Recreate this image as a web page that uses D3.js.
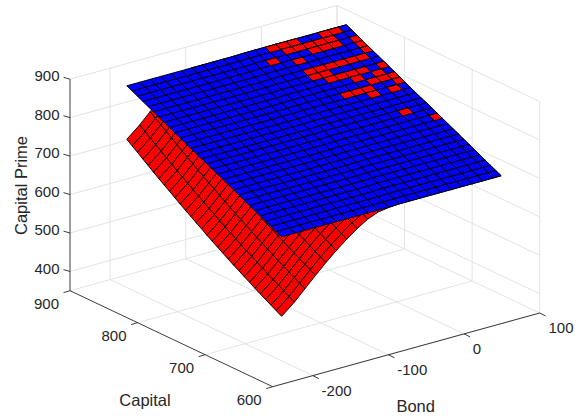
<!DOCTYPE html>
<html>
<head>
<meta charset="utf-8">
<script src="https://cdn.jsdelivr.net/npm/d3@7"></script>
<style>
html,body{margin:0;padding:0;background:#fff}
svg{display:block}
text{font-family:"Liberation Sans",Arial,Helvetica,sans-serif;fill:#262626}
</style>
</head>
<body>
<svg id="chart" width="583" height="419"></svg>
<script>
// Axis titles and ticks
const xLabel = "Bond";
const yLabel = "Capital";
const zLabel = "Capital Prime";
const bondTicks = [-200, -100, 0, 100];
const capitalTicks = [600, 700, 800, 900];
const zTicks = [400, 500, 600, 700, 800, 900];
const bondDomain = [-253, 100];
const capitalDomain = [600, 900];
const zDomain = [350, 900];

// Grid of the two surfaces
const bondGrid = [-214.4,-197.4,-183.6,-169.7,-155.9,-142.1,-128.3,-114.5,-100.6,-86.8,-73,-59.2,-45.4,-31.5,-17.7,-3.9,9.9,23.7,37.6,51.4,65.2,75.8];
const capitalGrid = [630,637.9,645.8,653.7,661.6,669.5,677.4,685.3,693.2,701.1,709,716.9,724.8,732.7,740.6,748.5,756.4,764.3,772.2,780.1,788,795.9,803.8,811.7,819.6,827.5,835.4,843.3,851.2,859.1];

// Red surface: one row per capitalGrid value, one column per bondGrid value
const redSurface = [
[487,515,542,569,595,619,641,661,678,689,693,695,695,695,695,695,695,695,695,695,695,695],
[495,523,550,577,603,627,649,669,686,697,701,702,702,702,702,702,702,702,702,702,702,702],
[503,531,558,585,611,635,657,677,694,705,708,709,709,709,709,709,709,709,709,709,709,709],
[511,539,566,593,619,643,665,685,702,713,715,716,716,716,716,716,716,716,716,716,716,716],
[519,547,574,601,627,651,673,693,710,721,722,723,723,723,723,723,723,723,723,723,723,723],
[527,555,582,609,635,659,681,701,718,729,729,730,730,730,730,730,730,730,730,730,730,730],
[536,564,591,618,644,668,690,710,727,736,736,737,737,737,737,737,737,737,737,737,737,737],
[544,572,599,626,652,676,698,718,735,743,743,744,744,744,744,744,744,744,744,744,744,744],
[553,581,608,635,661,685,707,727,744,750,750,751,751,751,751,751,751,751,751,751,751,751],
[561,589,616,643,669,693,715,735,752,757,757,758,758,758,758,758,758,758,758,758,758,758],
[570,598,625,652,678,702,724,744,761,764,764,765,765,765,765,765,765,765,765,765,765,765],
[579,607,634,661,687,711,733,753,770,771,771,772,772,772,772,772,772,772,772,772,772,772],
[588,616,643,670,696,720,742,762,778,778,778,779,779,779,779,779,779,779,779,779,779,779],
[597,625,652,679,705,729,751,771,785,785,785,786,786,786,786,786,786,786,786,786,786,786],
[606,634,661,688,714,738,760,780,792,792,792,793,793,793,793,793,793,793,793,793,793,793],
[616,644,671,698,724,748,770,790,798,798,798,799,799,799,799,799,799,799,799,799,799,799],
[625,653,680,707,733,757,779,799,805,805,805,806,806,806,806,806,806,806,806,806,806,806],
[635,663,690,717,743,767,789,809,812,812,812,813,813,813,813,813,813,813,813,813,813,813],
[644,672,699,726,752,776,798,818,819,819,819,820,820,820,820,820,820,820,820,820,820,820],
[654,682,709,736,762,786,808,826,826,826,826,827,827,827,827,827,827,827,827,827,827,827],
[664,692,719,746,772,796,818,833,833,833,833,834,834,834,834,834,834,834,834,834,834,834],
[674,702,729,756,782,806,828,840,840,840,840,841,841,841,841,841,841,841,841,841,841,841],
[684,712,739,766,792,816,838,847,847,847,847,848,848,848,848,848,848,848,848,848,848,848],
[694,722,749,776,802,826,848,854,854,854,854,855,855,855,855,855,855,855,855,855,855,855],
[704,732,759,786,812,836,858,861,861,861,861,862,862,862,862,862,862,862,862,862,862,862],
[715,743,770,797,823,847,868,868,868,868,868,869,869,869,869,869,869,869,869,869,869,869],
[725,753,780,807,833,857,875,875,875,875,875,876,876,876,876,876,876,876,876,876,876,876],
[736,764,791,818,844,868,882,882,882,882,882,883,883,883,883,883,883,883,883,883,883,883],
[746,774,801,828,854,878,889,889,889,889,889,890,890,890,890,890,890,890,890,890,890,890],
[757,785,812,839,865,889,896,896,896,896,896,897,897,897,897,897,897,897,897,897,897,897]
];

// Blue surface: same grid
const blueSurface = [
[694,694,694,694,694,694,694,694,694,694,694,695,695,695,695,695,695,695,695,695,695,695],
[701,701,701,701,701,701,701,701,701,701,701,702,702,702,702,702,702,702,702,702,702,702],
[708,708,708,708,708,708,708,708,708,708,708,709,709,709,709,709,709,709,709,709,709,709],
[715,715,715,715,715,715,715,715,715,715,715,716,716,716,716,716,716,716,716,716,716,716],
[722,722,722,722,722,722,722,722,722,722,722,723,723,723,723,723,723,723,723,723,723,723],
[729,729,729,729,729,729,729,729,729,729,729,730,730,730,730,730,730,730,730,730,730,730],
[736,736,736,736,736,736,736,736,736,736,736,737,737,737,737,737,737,737,737,737,737,737],
[743,743,743,743,743,743,743,743,743,743,743,744,744,744,744,744,744,744,744,744,744,744],
[750,750,750,750,750,750,750,750,750,750,750,751,751,751,751,751,751,751,751,751,751,751],
[757,757,757,757,757,757,757,757,757,757,757,758,758,758,758,758,758,758,758,758,758,758],
[764,764,764,764,764,764,764,764,764,764,764,765,765,765,765,765,765,765,765,765,765,765],
[771,771,771,771,771,771,771,771,771,771,771,772,772,772,772,772,772,772,772,772,772,772],
[778,778,778,778,778,778,778,778,778,778,778,779,779,779,779,779,779,779,779,779,779,779],
[785,785,785,785,785,785,785,785,785,785,785,786,786,786,786,786,786,786,786,786,786,786],
[792,792,792,792,792,792,792,792,792,792,792,793,793,793,793,793,793,793,793,793,793,793],
[798,798,798,798,798,798,798,798,798,798,798,799,799,799,799,799,799,799,799,799,799,799],
[805,805,805,805,805,805,805,805,805,805,805,806,806,806,806,806,806,806,806,806,806,806],
[812,812,812,812,812,812,812,812,812,812,812,813,813,813,813,813,813,813,813,813,813,813],
[819,819,819,819,819,819,819,819,819,819,819,820,820,820,820,820,820,820,820,820,820,820],
[826,826,826,826,826,826,826,826,826,826,826,827,827,827,827,827,827,827,827,827,827,827],
[833,833,833,833,833,833,833,833,833,833,833,834,834,834,834,834,834,834,834,834,834,834],
[840,840,840,840,840,840,840,840,840,840,840,841,841,841,841,841,841,841,841,841,841,841],
[847,847,847,847,847,847,847,847,847,847,847,848,848,848,848,848,848,848,848,848,848,848],
[854,854,854,854,854,854,854,854,854,854,854,855,855,855,855,855,855,855,855,855,855,855],
[861,861,861,861,861,861,861,861,861,861,861,862,862,862,862,862,862,862,862,862,862,862],
[868,868,868,868,868,868,868,868,868,868,868,869,869,869,869,869,869,869,869,869,869,869],
[875,875,875,875,875,875,875,875,875,875,875,876,876,876,876,876,876,876,876,876,876,876],
[882,882,882,882,882,882,882,882,882,882,882,883,883,883,883,883,883,883,883,883,883,883],
[889,889,889,889,889,889,889,889,889,889,889,890,890,890,890,890,890,890,890,890,890,890],
[896,896,896,896,896,896,896,896,896,896,896,897,897,897,897,897,897,897,897,897,897,897]
];

// Cells where the red sheet pokes through the blue one:
// key = capital cell counted from the top of capitalGrid, value = bond cell indices
const redThroughBlue = {
  0:[13,14,15,18,19], 1:[14,15,16,17,18], 2:[12,16,17,18,20], 3:[14,20], 4:[20],
  5:[14,15,16,17,18,19], 6:[14,15], 7:[15,16,17,18,20], 8:[17,19], 9:[18,19,20],
  10:[15,16,17,20], 11:[17,19], 15:[18], 17:[20]
};

const redColor = "#ff0000", blueColor = "#0000ff", gridColor = "#e3e3e3", axisColor = "#262626";

// Orthographic view: each axis maps to a fraction, fractions combine into screen vectors
const u = d3.scaleLinear().domain(bondDomain).range([0, 1]);
const v = d3.scaleLinear().domain(capitalDomain).range([0, 1]);
const w = d3.scaleLinear().domain(zDomain).range([0, 1]);
const origin = [272.7, 386.7], bondVec = [267, -73.7], capVec = [-202.7, -96], zVec = [0, -211.5];
const project = (b, c, z) => [
  origin[0] + u(b) * bondVec[0] + v(c) * capVec[0] + w(z) * zVec[0],
  origin[1] + u(b) * bondVec[1] + v(c) * capVec[1] + w(z) * zVec[1]
];

const svg = d3.select("#chart");
const line = d3.line();
const [bMin, bMax] = bondDomain, [cMin, cMax] = capitalDomain, [zMin, zMax] = zDomain;

// Walls and floor grid
const gridSegs = [];
bondTicks.forEach(b => {
  gridSegs.push([project(b, cMin, zMin), project(b, cMax, zMin)]);
  gridSegs.push([project(b, cMax, zMin), project(b, cMax, zMax)]);
});
capitalTicks.forEach(c => {
  gridSegs.push([project(bMin, c, zMin), project(bMax, c, zMin)]);
  gridSegs.push([project(bMax, c, zMin), project(bMax, c, zMax)]);
});
zTicks.forEach(z => {
  gridSegs.push([project(bMin, cMax, z), project(bMax, cMax, z)]);
  gridSegs.push([project(bMax, cMax, z), project(bMax, cMin, z)]);
});
svg.append("g").selectAll("path").data(gridSegs).join("path")
  .attr("d", line).attr("fill", "none").attr("stroke", gridColor).attr("stroke-width", 1);

// Axis lines
const axisSegs = [
  [project(bMin, cMax, zMin), project(bMin, cMax, zMax)],
  [project(bMin, cMax, zMin), project(bMin, cMin, zMin)],
  [project(bMin, cMin, zMin), project(bMax, cMin, zMin)]
];
const tickSegs = [];
zTicks.forEach(z => { const p = project(bMin, cMax, z); tickSegs.push([p, [p[0] - 6.5, p[1] - 1.9]]); });
capitalTicks.forEach(c => { const p = project(bMin, c, zMin); tickSegs.push([p, [p[0] - 6.5, p[1] + 1.9]]); });
bondTicks.forEach(b => { const p = project(b, cMin, zMin); tickSegs.push([p, [p[0] + 6, p[1] + 3]]); });
svg.append("g").selectAll("path").data(axisSegs.concat(tickSegs)).join("path")
  .attr("d", line).attr("fill", "none").attr("stroke", axisColor).attr("stroke-width", 0.9);

// Surface cells, far to near
function cells(zs) {
  const out = [];
  for (let i = capitalGrid.length - 2; i >= 0; i--) {
    for (let j = bondGrid.length - 2; j >= 0; j--) {
      out.push({ i, j, pts: [
        project(bondGrid[j], capitalGrid[i], zs[i][j]),
        project(bondGrid[j + 1], capitalGrid[i], zs[i][j + 1]),
        project(bondGrid[j + 1], capitalGrid[i + 1], zs[i + 1][j + 1]),
        project(bondGrid[j], capitalGrid[i + 1], zs[i + 1][j])
      ] });
    }
  }
  return out;
}
function drawCells(list, color) {
  svg.append("g").selectAll("path").data(list).join("path")
    .attr("d", d => line(d.pts) + "Z")
    .attr("fill", color).attr("stroke", "#000").attr("stroke-width", 0.95)
    .attr("stroke-linejoin", "round");
}
const redCells = cells(redSurface);
drawCells(redCells, redColor);
drawCells(cells(blueSurface), blueColor);
const topRow = capitalGrid.length - 2;
drawCells(redCells.filter(d => (redThroughBlue[topRow - d.i] || []).includes(d.j)), redColor);

// Tick labels
const tickFont = 15, labelFont = 16.5;
function label(x, y, str, anchor, size) {
  return svg.append("text").attr("x", x).attr("y", y).attr("dy", "0.35em")
    .attr("text-anchor", anchor).attr("font-size", size).text(str);
}
zTicks.forEach(z => { const p = project(bMin, cMax, z); label(p[0] - 10.5, p[1] - 3, z, "end", tickFont); });
capitalTicks.forEach(c => { const p = project(bMin, c, zMin); label(p[0] - 11, p[1] + 13, c, "end", tickFont); });
bondTicks.forEach(b => { const p = project(b, cMin, zMin); label(p[0] + 8.8, p[1] + 15, b, "start", tickFont); });

// Axis titles
label(415.7, 406.7, xLabel, "middle", labelFont);
label(145, 400, yLabel, "middle", labelFont);
label(0, 0, zLabel, "middle", labelFont).attr("transform", "translate(21,185.5) rotate(-90)");
</script>
</body>
</html>
